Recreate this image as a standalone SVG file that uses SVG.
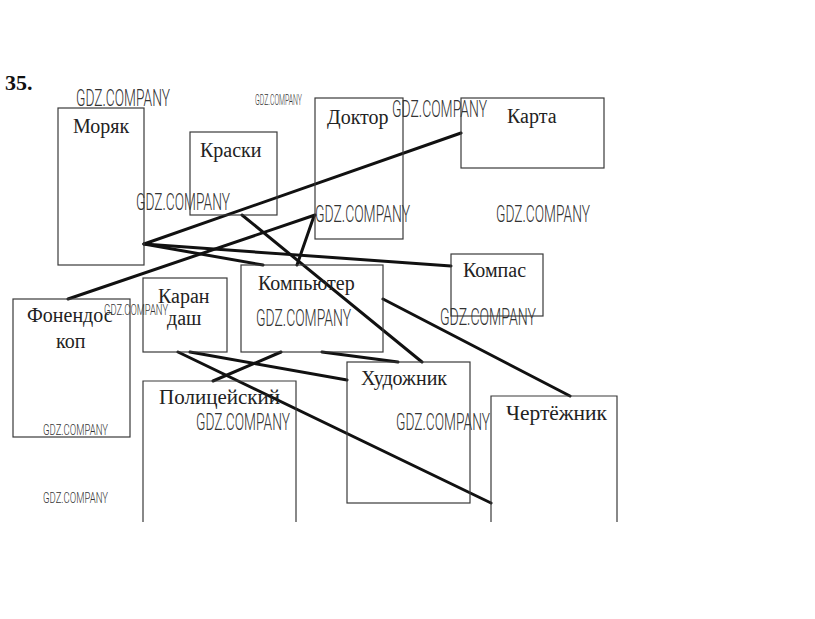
<svg xmlns="http://www.w3.org/2000/svg" width="815" height="619" viewBox="0 0 815 619">
<style>
.box{fill:none;stroke:#3a3a3a;stroke-width:1.2}
.lbl{font-family:"Liberation Serif","Times New Roman",serif;font-size:20px;fill:#222}
.wm{font-family:Roboto,"DejaVu Sans Condensed","Liberation Sans",sans-serif;font-weight:300;font-size:24px;fill:#333}
.wms{font-family:Roboto,"DejaVu Sans Condensed","Liberation Sans",sans-serif;font-weight:300;font-size:15px;fill:#333}
.ln{stroke:#111;stroke-width:3;stroke-linecap:round;fill:none}
</style>
<rect width="815" height="619" fill="#fff"/>
<text x="5" y="90" font-family="Liberation Serif,serif" font-weight="bold" font-size="22" fill="#111">35.</text>
<g id="connectors">
<line class="ln" x1="144" y1="244" x2="461" y2="133"/>
<line class="ln" x1="144" y1="244" x2="451" y2="266"/>
<line class="ln" x1="144" y1="244" x2="263" y2="265"/>
<line class="ln" x1="68" y1="299" x2="315" y2="215"/>
<line class="ln" x1="314" y1="216" x2="297" y2="265"/>
<line class="ln" x1="242" y1="215" x2="422" y2="362"/>
<line class="ln" x1="383" y1="299" x2="570" y2="396"/>
<line class="ln" x1="190" y1="352" x2="347" y2="380"/>
<line class="ln" x1="178" y1="352" x2="491" y2="503"/>
<line class="ln" x1="281" y1="352" x2="213" y2="381"/>
<line class="ln" x1="322" y1="352" x2="398" y2="362"/>
</g>
<g id="moryak"><rect class="box" x="58" y="108" width="86" height="157"/><text class="lbl" x="73" y="133">Моряк</text></g>
<g id="kraski"><rect class="box" x="190" y="132" width="87" height="83"/><text class="lbl" x="200" y="157">Краски</text></g>
<g id="doktor"><rect class="box" x="315" y="98" width="88" height="141"/><text class="lbl" x="327" y="124">Доктор</text></g>
<g id="karta"><rect class="box" x="461" y="98" width="143" height="70"/><text class="lbl" x="507" y="123">Карта</text></g>
<g id="kompas"><rect class="box" x="451" y="254" width="92" height="62"/><text class="lbl" x="463" y="277">Компас</text></g>
<g id="kompyuter"><rect class="box" x="241" y="265" width="142" height="87"/><text class="lbl" x="258" y="290">Компьютер</text></g>
<g id="karandash"><rect class="box" x="143" y="278" width="84" height="74"/><text class="lbl" x="158" y="303">Каран</text><text class="lbl" x="167" y="325">даш</text></g>
<g id="fonendoskop"><rect class="box" x="13" y="299" width="117" height="138"/><text class="lbl" x="27" y="322">Фонендос</text><text class="lbl" x="56" y="348">коп</text></g>
<g id="politseyskiy"><path class="box" d="M143,522 V381 H296 V522"/><text class="lbl" x="159" y="404" textLength="121" lengthAdjust="spacingAndGlyphs">Полицейский</text></g>
<g id="khudozhnik"><rect class="box" x="347" y="362" width="123" height="141"/><text class="lbl" x="361" y="385" font-size="21">Художник</text></g>
<g id="chertezhnik"><path class="box" d="M491,522 V396 H617 V522"/><text class="lbl" x="506" y="420" font-size="21" textLength="101" lengthAdjust="spacingAndGlyphs">Чертёжник</text></g>
<g id="watermarks">
<text class="wm" x="76" y="106" textLength="94" lengthAdjust="spacingAndGlyphs">GDZ.COMPANY</text>
<text class="wms" x="255" y="105" font-size="11" textLength="47" lengthAdjust="spacingAndGlyphs">GDZ.COMPANY</text>
<text class="wm" x="136" y="210" textLength="94" lengthAdjust="spacingAndGlyphs">GDZ.COMPANY</text>
<text class="wm" x="392" y="117" textLength="95" lengthAdjust="spacingAndGlyphs">GDZ.COMPANY</text>
<text class="wm" x="315" y="222" textLength="95" lengthAdjust="spacingAndGlyphs">GDZ.COMPANY</text>
<text class="wm" x="496" y="222" textLength="94" lengthAdjust="spacingAndGlyphs">GDZ.COMPANY</text>
<text class="wms" x="104" y="315" textLength="64" lengthAdjust="spacingAndGlyphs">GDZ.COMPANY</text>
<text class="wm" x="256" y="326" textLength="95" lengthAdjust="spacingAndGlyphs">GDZ.COMPANY</text>
<text class="wm" x="440" y="325" textLength="96" lengthAdjust="spacingAndGlyphs">GDZ.COMPANY</text>
<text class="wms" x="43" y="435" textLength="65" lengthAdjust="spacingAndGlyphs">GDZ.COMPANY</text>
<text class="wm" x="196" y="430" textLength="94" lengthAdjust="spacingAndGlyphs">GDZ.COMPANY</text>
<text class="wm" x="396" y="430" textLength="94" lengthAdjust="spacingAndGlyphs">GDZ.COMPANY</text>
<text class="wms" x="43" y="503" textLength="65" lengthAdjust="spacingAndGlyphs">GDZ.COMPANY</text>
</g>
</svg>
